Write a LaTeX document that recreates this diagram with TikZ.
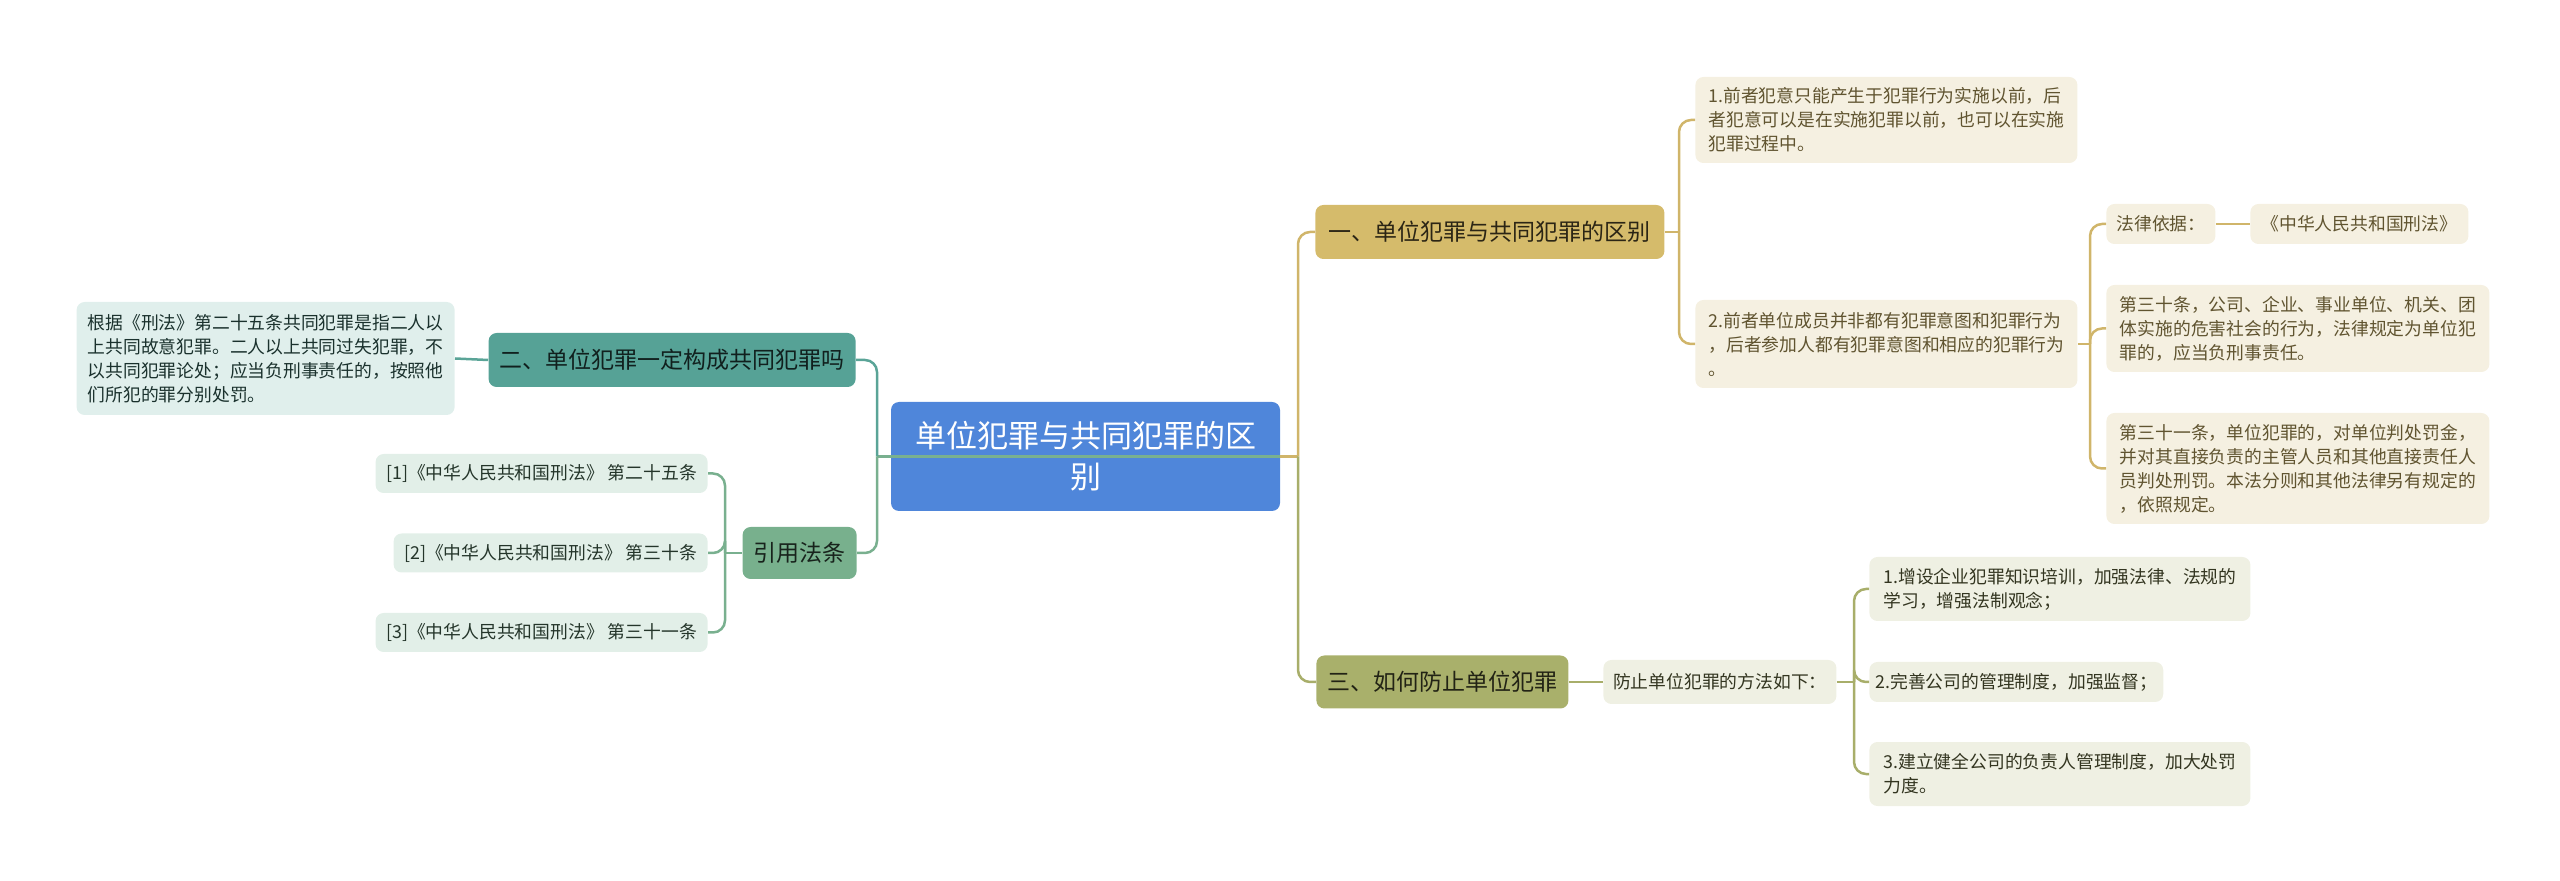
\documentclass[tikz,border=0pt]{standalone}
\usepackage{fontspec}
\setmainfont{Noto Sans CJK SC}
\usetikzlibrary{positioning}
% palette
\definecolor{rootfill}{HTML}{4F86DA}
\definecolor{tealfill}{HTML}{56A296}
\definecolor{tealleaf}{HTML}{E0EFEC}
\definecolor{tealline}{HTML}{5AA497}
\definecolor{greenfill}{HTML}{78B08D}
\definecolor{greenleaf}{HTML}{E2EFE8}
\definecolor{greenline}{HTML}{79B08F}
\definecolor{goldfill}{HTML}{D5BB6B}
\definecolor{goldleaf}{HTML}{F5F0E1}
\definecolor{goldline}{HTML}{D0B56A}
\definecolor{olivefill}{HTML}{A9B06B}
\definecolor{oliveleaf}{HTML}{EFF0E3}
\definecolor{oliveline}{HTML}{A8AE6A}
\tikzset{
  box/.style={rounded corners=4pt, inner xsep=4pt, inner ysep=2pt},
  topic/.style={box, font=\fontsize{11.5}{14}\selectfont, text=black!85},
  leaf/.style={box, inner xsep=3pt, font=\fontsize{8.9}{12}\selectfont, align=left},
  wire/.style={line width=1.25pt, rounded corners=6pt},
}
\newcommand{\twig}[3]{\draw[wire,#1] (#2) |- (#3);}

\begin{document}
\begin{tikzpicture}[x=0.5pt,y=-0.5pt]
\useasboundingbox (0,0) rectangle (2560,881);

% centre
\node[box, fill=rootfill, text=white, align=center, minimum width=194.5pt, minimum height=54.5pt,
  font=\fontsize{15.5}{20.5}\selectfont] (root) at (1085.5,456.5) {单位犯罪与共同犯罪的区\\别};

% left side
\node[topic, fill=tealfill, text=black!80!tealfill, anchor=east, minimum width=183.5pt, minimum height=27pt]
  (two) at (856,360) {二、单位犯罪一定构成共同犯罪吗};
\node[leaf, fill=tealleaf, text=black!70!tealfill, anchor=east, minimum width=189pt, minimum height=56.5pt]
  (twoleaf) at (455,358.5) {根据《刑法》第二十五条共同犯罪是指二人以\\上共同故意犯罪。二人以上共同过失犯罪，不\\以共同犯罪论处；应当负刑事责任的，按照他\\们所犯的罪分别处罚。};
\node[topic, fill=greenfill, text=black!80!greenfill, anchor=east, minimum width=57pt, minimum height=26pt]
  (cite) at (857,553) {引用法条};
\node[leaf, fill=greenleaf, text=black!70!greenfill, anchor=east, minimum width=166pt, minimum height=19.5pt]
  (cite1) at (708,473.5) {[1]《中华人民共和国刑法》 第二十五条};
\node[leaf, fill=greenleaf, text=black!70!greenfill, anchor=east, minimum width=157pt, minimum height=19.5pt]
  (cite2) at (708,553) {[2]《中华人民共和国刑法》 第三十条};
\node[leaf, fill=greenleaf, text=black!70!greenfill, anchor=east, minimum width=166pt, minimum height=19.5pt]
  (cite3) at (708,632.5) {[3]《中华人民共和国刑法》 第三十一条};

% right side, first topic
\node[topic, fill=goldfill, text=black!80!goldfill, anchor=west, minimum width=174.5pt, minimum height=27pt]
  (one) at (1315,232) {一、单位犯罪与共同犯罪的区别};
\node[leaf, fill=goldleaf, text=black!55!goldfill, anchor=west, minimum width=191pt, minimum height=43pt]
  (one1) at (1695,120) {1.前者犯意只能产生于犯罪行为实施以前，后\\者犯意可以是在实施犯罪以前，也可以在实施\\犯罪过程中。};
\node[leaf, fill=goldleaf, text=black!55!goldfill, anchor=west, minimum width=191pt, minimum height=44pt]
  (one2) at (1695,344) {2.前者单位成员并非都有犯罪意图和犯罪行为\\，后者参加人都有犯罪意图和相应的犯罪行为\\。};
\node[leaf, fill=goldleaf, text=black!55!goldfill, anchor=west, minimum width=54.5pt, minimum height=20pt]
  (basis) at (2106,224) {法律依据：};
\node[leaf, fill=goldleaf, text=black!55!goldfill, anchor=west, minimum width=109pt, minimum height=20pt]
  (law) at (2250,224) {《中华人民共和国刑法》};
\node[leaf, fill=goldleaf, text=black!55!goldfill, anchor=west, minimum width=191.5pt, minimum height=43.5pt]
  (art30) at (2106,328.5) {第三十条，公司、企业、事业单位、机关、团\\体实施的危害社会的行为，法律规定为单位犯\\罪的，应当负刑事责任。};
\node[leaf, fill=goldleaf, text=black!55!goldfill, anchor=west, minimum width=191.5pt, minimum height=55.5pt]
  (art31) at (2106,468.5) {第三十一条，单位犯罪的，对单位判处罚金，\\并对其直接负责的主管人员和其他直接责任人\\员判处刑罚。本法分则和其他法律另有规定的\\，依照规定。};

% right side, third topic
\node[topic, fill=olivefill, text=black!80!olivefill, anchor=west, minimum width=126pt, minimum height=26.5pt]
  (three) at (1316,682) {三、如何防止单位犯罪};
\node[leaf, fill=oliveleaf, text=black!70!olivefill, anchor=west, minimum width=116.5pt, minimum height=22pt]
  (ways) at (1603,682) {防止单位犯罪的方法如下：};
\node[leaf, fill=oliveleaf, text=black!70!olivefill, anchor=west, minimum width=190.5pt, minimum height=32pt]
  (way1) at (1869,589) {1.增设企业犯罪知识培训，加强法律、法规的\\学习，增强法制观念；};
\node[leaf, fill=oliveleaf, text=black!70!olivefill, anchor=west, minimum height=20pt]
  (way2) at (1869,682) {2.完善公司的管理制度，加强监督；};
\node[leaf, fill=oliveleaf, text=black!70!olivefill, anchor=west, minimum width=190.5pt, minimum height=32pt]
  (way3) at (1869,774) {3.建立健全公司的负责人管理制度，加大处罚\\力度。};

% junctions
\coordinate (lj) at (877,456.5);
\coordinate (rj) at (1298,456.5);
\coordinate (cj) at (725,553);
\coordinate (oj) at (1679,232);
\coordinate (aj) at (2090,344);
\coordinate (wj) at (1854,682);

% connectors
\draw[wire, greenline] (root.east) -- (lj);
\twig{tealline}{lj}{two.east}
\twig{greenline}{lj}{cite.east}
\draw[wire, tealline] (two.west) -- (twoleaf.east);
\draw[wire, greenline] (cite.west) -- (cj);
\foreach \c in {cite1,cite2,cite3} {
  \twig{greenline}{cj}{\c.east}
}
\draw[wire, goldline] (root.east) -- (rj);
\twig{goldline}{rj}{one.west}
\twig{oliveline}{rj}{three.west}
\draw[wire, goldline] (one.east) -- (oj);
\twig{goldline}{oj}{one1.west}
\twig{goldline}{oj}{one2.west}
\draw[wire, goldline] (one2.east) -- (aj);
\foreach \c in {basis,art30,art31} {
  \twig{goldline}{aj}{\c.west}
}
\draw[wire, goldline] (basis.east) -- (law.west);
\draw[wire, oliveline] (three.east) -- (ways.west);
\draw[wire, oliveline] (ways.east) -- (wj);
\foreach \c in {way1,way2,way3} {
  \twig{oliveline}{wj}{\c.west}
}
\end{tikzpicture}
\end{document}
